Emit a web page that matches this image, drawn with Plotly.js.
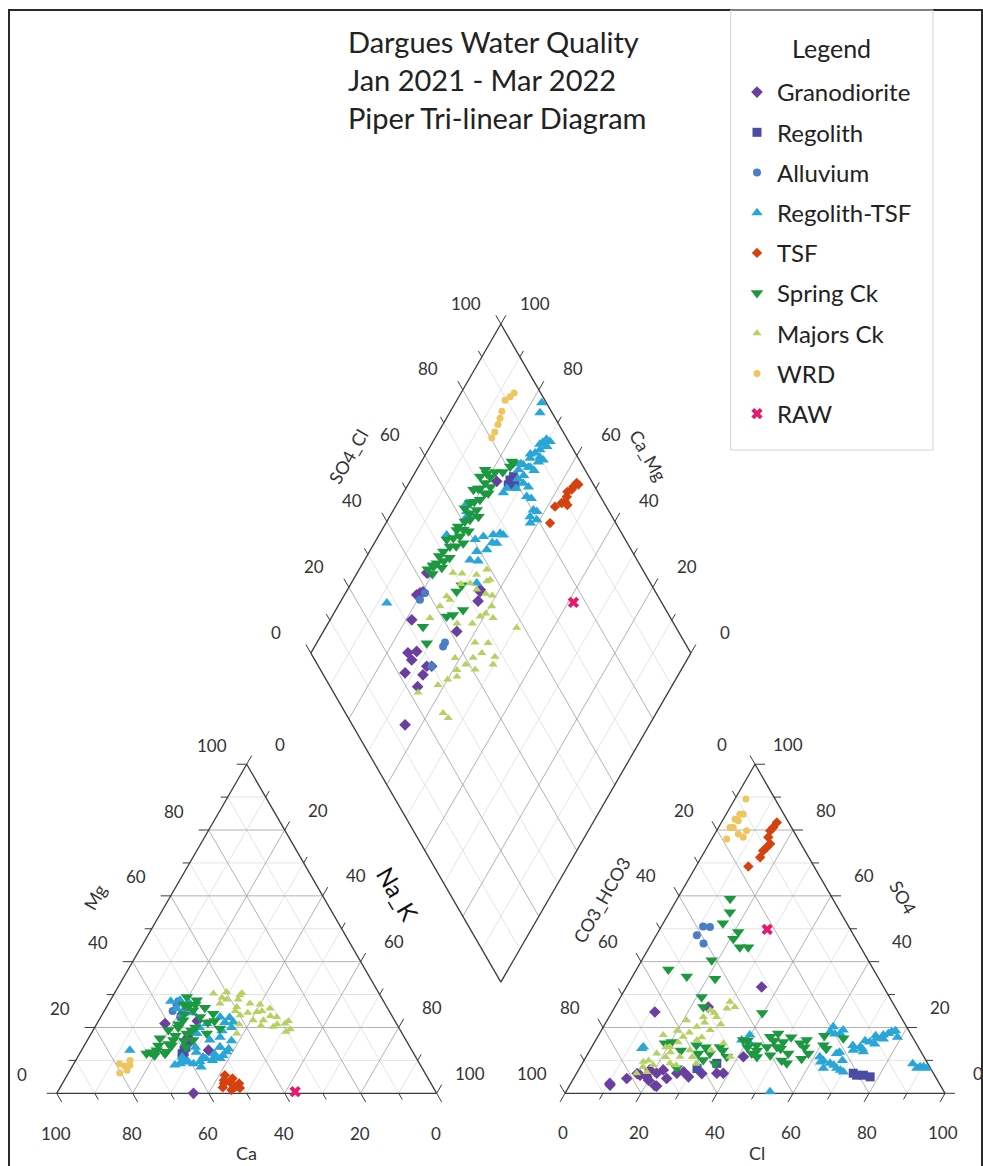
<!DOCTYPE html>
<html><head><meta charset="utf-8">
<script src="https://cdn.plot.ly/plotly-3.0.1.min.js"></script>
<style>html,body{margin:0;padding:0;background:#fff;} #chart{width:983px;height:1166px;}</style>
</head><body><div id="chart"></div>
<script>
// ================= DATA (percent of meq) =================
// cation panels: [Ca, Mg] (Na_K = 100 - Ca - Mg)
// anion panels:  [Cl, SO4] (CO3_HCO3 = 100 - Cl - SO4)
// diamond:       [SO4_Cl, Ca_Mg]
const groupNames = ["Granodiorite","Regolith","Alluvium","Regolith-TSF","TSF","Spring Ck","Majors Ck","WRD","RAW"];

const granoCat = [[64,0],[53.5,13.1],[60.9,11.6],[60.9,21.2],[55,24],[57,17],[52,22],[58,15]];
const granoAn  = [[35.6,32.3],[11.3,24.7],[24.6,26.2],[10.6,2.5],[22.5,2.3],[17,5.5],[18.8,7.1],[22.3,7.1],[26.4,6.1],[21.1,6.1],[19,5],[36.9,6.1],[38.6,6.1],[10.3,3],[23,2.2],[41.4,11.1],[14,4.5],[30,5],[16,6],[20,4],[24.5,4.5],[28,6.5],[33,6]];
const granoDia = [[42.7,81.7],[36.7,81],[38.8,79.8],[31.6,78.5],[25.6,74.5],[25.5,72.4],[21.8,72.2],[28.5,67.5],[29.8,66.2],[26.2,67.2],[23,66.8],[13.9,64.3],[41.7,64.9],[53.9,64.8],[51.9,63.9],[28.1,72.4],[75,77.2],[43,81.4],[37.9,80.4],[54.2,65.1]];

const regoCat = [[60,13],[61,12],[59,14]];
const regoAn  = [[74,5.5],[77.8,5],[72.8,6.1],[75.8,5.5],[35.4,9.1],[31,7.5]];
const regoDia = [[78.7,73.9],[80.1,73.5],[77.5,73.6],[79.6,72.1]];

const alluCat = [[55,27],[57,25],[53,26],[56,23],[54,28]];
const alluAn  = [[11,50.7],[12.9,50.5],[10.7,48],[13.7,45.5]];
const alluDia = [[39.2,79.1],[36.9,66.3],[35.8,66.2],[29.8,66.2],[36.8,79.4]];

const rtsfCat = [[64.6,8.6],[61,9.5],[57.5,9.6],[54,10],[51.7,10.6],[49,12.6],[60.6,9.6],[56,11],[52.5,12],[50,14],[58,8],[62,10],[74.2,13.1],[53.4,28.3],[55.5,25.8],[51.3,27.3],[54.6,24.2],[49.9,21.2],[45.4,23.2],[42.7,21.7],[51.6,16.2],[54,18.2],[50,14.1],[47,19],[44,20],
  [63,9],[59.5,9],[55.5,10.5],[53,11],[50.5,11.5],[48,13.5],[57,12.5],[61.5,11],[46,16],[48.5,17],[52.5,20],[56.5,14],[45,21.5],[43,23],[52,24.5],[56,28]];
const rtsfAn  = [[69.3,13.1],[72.4,15.6],[74.9,17.7],[76.6,18.7],[70.6,14.1],[73.7,16.7],[72.2,12.6],[60.4,18.7],[63.3,18.2],[61.5,11.1],[65.2,9.1],[67.7,7.6],[70,6.5],[64.2,7.6],[88.8,7.6],[90.3,8.1],[65.4,12.1],[38.4,16.2],[39.8,17.7],[53.7,0.5],[13.4,13.6],[60.5,20.2],[63.6,19.2],[76,18.2],[89.4,8.1],[91.4,7.6],[13.6,14.1],[41,15.2],[68,10],[66,12.5],[62.5,9.5],
  [71,16],[73,17.5],[75.5,16.5],[77.5,19],[68.5,14.5],[71.5,13.5],[66.5,8.5],[63,10],[69,7],[62,18],[74,15],[87,9],[79,17]];
const rtsfDia = [[98.8,77.3],[96.8,76.2],[95.1,69.2],[93.5,69.3],[91.2,70.6],[89.4,71.4],[87.3,71.9],[84.5,72.7],[82.5,73.2],[76.6,73.5],[75,73.7],[81.7,69.9],[80.6,67],[80.3,63.2],[79.7,60.8],[78.4,63],[90.5,68.2],[88.9,69.2],[63.8,81.7],[53.7,82.2],[68,68.4],[62,69.4],[56,72.3],[63.1,72.3],[65.6,67.8],[61.8,79.7],[59.1,71.8],[68.6,67.3],[63.5,78],[27.6,87.6],[54.3,67],[93,71],[86,70.5],[83,71],
  [92,71.5],[90,69.5],[88,72.5],[85.5,71],[84,73.5],[81,72],[79,71],[82.5,68],[81.5,65.5],[81,62],[77.5,62],[94.5,70.5],[86.5,69],[66,70],[60.5,74],[64.5,69],[58,70],[62.5,80.5]];

const tsfCat = [[53,5.5],[51,1.6],[55.4,1.8],[52.7,3.4],[54,4],[50.5,3],[52,2],[53.5,1],[51.5,4.5],[54.5,3]];
const tsfAn  = [[14.6,82.3],[14.1,79.8],[14.6,77.8],[16.1,75.8],[15.3,73.7],[15.5,71.7],[13.8,68.9],[14.4,80.8],[15.7,74.7]];
const tsfDia = [[95.8,55.9],[93.5,56.2],[91.1,56.4],[88.8,56.8],[86.5,58],[82.7,56.8],[94.4,56.2],[96,55.2],[89.9,56.1],[92,57],[90,55]];

const springCat = [[70.3,12.1],[67.1,13.1],[64.8,12.6],[68.5,11.5],[64.5,16.7],[61.2,16.2],[61,19.2],[51.1,29.3],[49,28.3],[51.5,25.2],[55.6,22.2],[50.7,23.2],[46.7,24.2],[47.2,19.7],[51.4,18.2],[56.7,18.2],[56,16.2],[53,27],[58,20],[48,26],[59,14],[62.5,14.5],
  [66,14.5],[63,15],[60,17.5],[57.5,21],[54.5,24],[52,26.5],[50,27],[49.5,21.5],[53.5,20],[58.5,16],[65.5,12],[69,12.5],[55,19],[47.5,22]];
const springAn  = [[13.9,59.1],[15.9,55],[15.7,51.7],[21.1,49],[20.8,47],[23.8,44.4],[26,44.4],[18.4,40.4],[8.4,37.6],[14.3,35.5],[22.1,34.8],[21.3,29.3],[23.3,26.2],[39.7,24.4],[18.7,15.2],[20.3,15.6],[29,12.1],[32.1,12.1],[25.6,7.6],[33.7,14.1],[38.8,16.2],[43.1,14.6],[45.4,17.2],[48.7,14.1],[49.6,15.6],[52.7,12.1],[48.2,11.6],[46.1,14.1],[47,18.2],[54.3,15.2],[58,12.1],[55.5,16.2],[53.8,9.1],[43.1,12.1],[64.9,16.7],[60.7,14.6],[27.3,14.6],[31.3,10.1],[37,11.1],
  [44,13],[47,16],[50,13.5],[51,17],[56,14],[57,10.5],[52,10],[45,11],[41,14],[35,13],[30,14],[62,13.5],[59.5,17.5],[24,13],[35,9],[40,16]];
const springDia = [[82.2,75.6],[80.8,75.9],[73.7,82],[71.4,82.3],[71.7,80],[71,77.6],[67.8,78.8],[65.4,78.1],[62.1,78.4],[58.9,78.6],[57.1,80.3],[57,78.5],[52.8,79.6],[50.3,80.6],[46.8,80.5],[45.4,80.9],[64.7,80.9],[67.6,82],[64.8,76.6],[56.8,76.6],[73.6,81],[45.5,81.2],[47.4,78.5],[33.5,74.5],[41.3,69.8],[43.2,68.4],[46.6,66.5],[47.7,71],[50,70.6],[32,71],[82,76.2],[69.5,80.5],[60.5,79.5],[54.5,78],[49,79],
  [78,77],[76,79],[74,79.5],[69,81],[66,80],[63,79.5],[60,77],[58,80.5],[55,80],[53,81.5],[51,78],[48.5,81],[44,80],[43.5,82],[62.5,81.5],[70,78.5],[72.5,78]];

const majorsCat = [[43.6,30.3],[39.9,30.8],[36.9,29.8],[43.4,27.3],[39.5,26.2],[35.5,27.3],[35,24.7],[31,25.8],[30.5,23.2],[37.2,22.2],[29.3,21.2],[30.3,18.7],[34.5,22.2],[39.9,23.7],[43.5,18.2],[32.9,20.2],[41,28.5],[33,27],[28.8,19.5],
  [42,29],[38,28.5],[36,30.5],[40.5,25],[37.5,24.5],[33.5,25],[32,23.5],[36,20.5],[31.5,21],[28,22],[41.5,21]];
const majorsAn  = [[15.8,6.1],[15.8,9.6],[18.1,12.1],[20.6,14.1],[22.5,17.2],[24.6,20.2],[24.8,23.2],[28.3,23.2],[28.6,19.2],[26.3,13.1],[24.7,11.1],[18.9,8.6],[23.1,9.1],[34.1,15.2],[37.9,11.1],[18.3,6.5],[20.9,22.2],[25.6,25.2],[17,17.7],[26.6,16.2],[29.5,27.8],[29.7,25.8],[31.6,26.2],[21,11],[30,9],
  [17,10],[19.5,14],[22,15.5],[23.5,18.5],[26,21.5],[27.5,17],[21.5,12.5],[25,8.5],[28,11],[32,13],[20,19],[16.5,8],[30.5,21],[27,24.5]];
const majorsDia = [[49.6,74.8],[55.5,68.3],[57.2,64.6],[44.4,72.9],[41.1,73.1],[36.7,74],[50.1,61],[54.7,59.5],[53.3,57.4],[58,49.7],[44.8,58.4],[48.2,54.9],[37.2,61.3],[42,56.6],[47.9,51],[46.2,50.3],[35.9,59],[34.9,58],[40.7,54.3],[28.6,61.7],[22.2,65.8],[25.7,56.1],[26.3,54],[51.9,72.3],[59,66.4],[58.3,64],[52.5,68.7],[53.3,66],[44.7,71.5],
  [50,71],[55,63],[47,62],[45,55],[39,57.5],[32,60],[56.5,61],[43,66],[52,60]];

const wrdCat = [[77.9,8.3],[75.7,10],[80.3,6.2],[78,7],[79,9],[76.5,8.5]];
const wrdAn  = [[2.9,89.4],[4.5,84.8],[4.2,82.8],[3.9,80.8],[6.2,78.8],[8,77.8],[3.9,77.3],[3,80.8],[3.1,83.3],[3.6,84.8],[7.9,79.8]];
const wrdDia = [[91.4,86.5],[89.5,87.3],[87,86.5],[85.5,85.9],[84,85.5],[82,85.2],[80.3,85.1],[93,86]];

const rawCat = [[37,0.5]];
const rawAn  = [[28.3,49.8]];
const rawDia = [[76.8,38.6]];

const tickVals = [0,20,40,60,80,100];

// ================= STYLE / GEOMETRY =================
const FONT = 'Lato, "Open Sans", sans-serif';
const styles = [
  {color:'#6B3FA0', symbol:'diamond', size:9},
  {color:'#4A4DA3', symbol:'square', size:9},
  {color:'#4A7DC8', symbol:'circle', size:8},
  {color:'#29A6D8', symbol:'triangle-up', size:10},
  {color:'#D5420F', symbol:'diamond', size:8},
  {color:'#1C9840', symbol:'triangle-down', size:11},
  {color:'#B5D160', symbol:'triangle-up', size:8},
  {color:'#F0C560', symbol:'circle', size:7},
  {color:'#E8186D', symbol:'x', size:10}
];
const panels = [
  [granoCat, granoAn, granoDia],[regoCat, regoAn, regoDia],[alluCat, alluAn, alluDia],
  [rtsfCat, rtsfAn, rtsfDia],[tsfCat, tsfAn, tsfDia],[springCat, springAn, springDia],
  [majorsCat, majorsAn, majorsDia],[wrdCat, wrdAn, wrdDia],[rawCat, rawAn, rawDia]
];

const SIDE = 380, HT = SIDE*Math.sqrt(3)/2;
const CAT0 = [56.7, 1093.3];
const AN0 = [565, 1093.3];
const DIA0 = [(CAT0[0]+SIDE+AN0[0])/2, 1093.3 - (AN0[0]-CAT0[0]-SIDE)/2*Math.sqrt(3)];
function triPt(o,u,v){ return [o[0]+SIDE*u+SIDE/2*v, o[1]-HT*v]; }
function diaPt(a,b){ return [DIA0[0]+SIDE/2*(a-b), DIA0[1]-HT*(a+b)]; }
function add(p, d, len){ return [p[0]+d[0]*len, p[1]+d[1]*len]; }

const minor = {x:[],y:[]}, major = {x:[],y:[]}, edge = {x:[],y:[]}, ticks = {x:[],y:[]};
function seg(s,p,q){ s.x.push(p[0],q[0],null); s.y.push(p[1],q[1],null); }
const UL=[-0.5,-0.866], UR=[0.5,-0.866], DL=[-0.5,0.866], DR=[0.5,0.866];

[CAT0, AN0].forEach(o=>{
  for(let k=1;k<10;k++){
    const t=k/10, s=(k%2===0)?major:minor;
    seg(s, triPt(o,0,t), triPt(o,1-t,t));
    seg(s, triPt(o,t,0), triPt(o,t,1-t));
    seg(s, triPt(o,1-t,0), triPt(o,0,1-t));
  }
  seg(edge, triPt(o,0,0), triPt(o,1,0)); seg(edge, triPt(o,1,0), triPt(o,0,1)); seg(edge, triPt(o,0,1), triPt(o,0,0));
});
for(let k=1;k<10;k++){
  const t=k/10, s=(k%2===0)?major:minor;
  seg(s, diaPt(t,0), diaPt(t,1));
  seg(s, diaPt(0,t), diaPt(1,t));
}
seg(edge, diaPt(0,0), diaPt(1,0)); seg(edge, diaPt(1,0), diaPt(1,1));
seg(edge, diaPt(1,1), diaPt(0,1)); seg(edge, diaPt(0,1), diaPt(0,0));

for(let k=0;k<=10;k++){
  const t=k/10, len=(k%2===0)?10:7;
  let p=triPt(CAT0,0,t); seg(ticks,p,add(p,[-1,0],len));
  p=triPt(CAT0,t,1-t); seg(ticks,p,add(p,UR,len));
  p=triPt(CAT0,1-t,0); seg(ticks,p,add(p,DR,len));
  p=triPt(AN0,1-t,t); seg(ticks,p,add(p,[1,0],len));
  p=triPt(AN0,t,0); seg(ticks,p,add(p,DL,len));
  p=triPt(AN0,0,1-t); seg(ticks,p,add(p,UL,len));
  p=diaPt(t,1); seg(ticks,p,add(p,UL,len));
  p=diaPt(1,t); seg(ticks,p,add(p,UR,len));
}

const traces = [
  {x:minor.x,y:minor.y,mode:'lines',line:{color:'#dddddd',width:0.8},showlegend:false,hoverinfo:'skip'},
  {x:major.x,y:major.y,mode:'lines',line:{color:'#a9a9a9',width:0.9},showlegend:false,hoverinfo:'skip'},
  {x:edge.x,y:edge.y,mode:'lines',line:{color:'#3a3a3a',width:1.3},showlegend:false,hoverinfo:'skip'},
  {x:ticks.x,y:ticks.y,mode:'lines',line:{color:'#3a3a3a',width:1},showlegend:false,hoverinfo:'skip'}
];

groupNames.forEach((name,i)=>{
  const [cat,an,dia]=panels[i];
  const xs=[], ys=[];
  cat.forEach(([ca,mg])=>{ const p=triPt(CAT0,(100-ca-mg)/100,mg/100); xs.push(p[0]); ys.push(p[1]); });
  an.forEach(([cl,so4])=>{ const p=triPt(AN0,cl/100,so4/100); xs.push(p[0]); ys.push(p[1]); });
  dia.forEach(([a,b])=>{ const p=diaPt(a/100,b/100); xs.push(p[0]); ys.push(p[1]); });
  const st=styles[i];
  traces.push({x:xs,y:ys,mode:'markers',name:name,legendgroup:'g'+i,
    marker:{color:st.color,symbol:st.symbol,size:st.size,line:{width:0}},hoverinfo:'skip'});
});

// ================= ANNOTATIONS =================
const ann = [];
function txt(x,y,text,opt){ ann.push(Object.assign({x:x,y:y,xref:'x',yref:'y',text:text,showarrow:false,
  xanchor:'center',yanchor:'middle',font:{family:FONT,size:17,color:'#333'}},opt||{})); }

tickVals.forEach(v=>{
  const t=v/100; let p;
  p=triPt(CAT0,0,t); txt(p[0]-35,p[1]-19,String(v));
  p=triPt(CAT0,t,1-t); txt(p[0]+33,p[1]-20,String(v));
  p=triPt(CAT0,1-t,0); txt(p[0]-1,p[1]+40,String(v));
  p=triPt(AN0,0,1-t); txt(p[0]-33,p[1]-20,String(v));
  p=triPt(AN0,1-t,t); txt(p[0]+33,p[1]-20,String(v));
  p=triPt(AN0,t,0); txt(p[0]-2,p[1]+39,String(v));
  p=diaPt(t,1); txt(p[0]-35,p[1]-21,String(v));
  p=diaPt(1,t); txt(p[0]+34,p[1]-21,String(v));
});
const axFont = {family:FONT,size:18,color:'#333'};
txt(95,897,'Mg',{textangle:-60,font:axFont});
txt(398,893,'Na_K',{textangle:60,font:{family:FONT,size:24,color:'#111'}});
txt(246.7,1153,'Ca',{font:axFont});
txt(601.7,900,'CO3_HCO3',{textangle:-60,font:axFont});
txt(903,897,'SO4',{textangle:60,font:axFont});
txt(756.7,1153,'Cl',{font:axFont});
txt(348,457,'SO4_Cl',{textangle:-60,font:axFont});
txt(648,455,'Ca_Mg',{textangle:60,font:axFont});

const titleFont = {family:FONT,size:29,color:'#222'};
txt(346,41,'Dargues Water Quality',{xanchor:'left',font:titleFont});
txt(346,79,'Jan 2021 - Mar 2022',{xanchor:'left',font:titleFont});
txt(346,117,'Piper Tri-linear Diagram',{xanchor:'left',font:titleFont});
txt(831.7,48,'Legend',{font:{family:FONT,size:25,color:'#222'}});

const layout = {
  width:983, height:1166, margin:{l:0,r:0,t:0,b:0}, autosize:false,
  paper_bgcolor:'#fff', plot_bgcolor:'#fff', hovermode:false,
  xaxis:{range:[0,983],visible:false,fixedrange:true},
  yaxis:{range:[1166,0],visible:false,fixedrange:true},
  showlegend:true,
  legend:{x:737/983,y:1-70/1166,xanchor:'left',yanchor:'top',bgcolor:'rgba(0,0,0,0)',borderwidth:0,
    font:{family:FONT,size:24,color:'#222'},tracegroupgap:6,itemsizing:'trace'},
  shapes:[
    {type:'rect',xref:'x',yref:'y',x0:9,y0:10,x1:982,y1:1180,line:{color:'#2a2a2a',width:2}},
    {type:'rect',xref:'x',yref:'y',x0:730.7,y0:10,x1:933,y1:450,line:{color:'#d4d4d4',width:1}}
  ],
  annotations:ann
};
Plotly.newPlot('chart', traces, layout, {displayModeBar:false, staticPlot:true});
</script>
</body></html>
